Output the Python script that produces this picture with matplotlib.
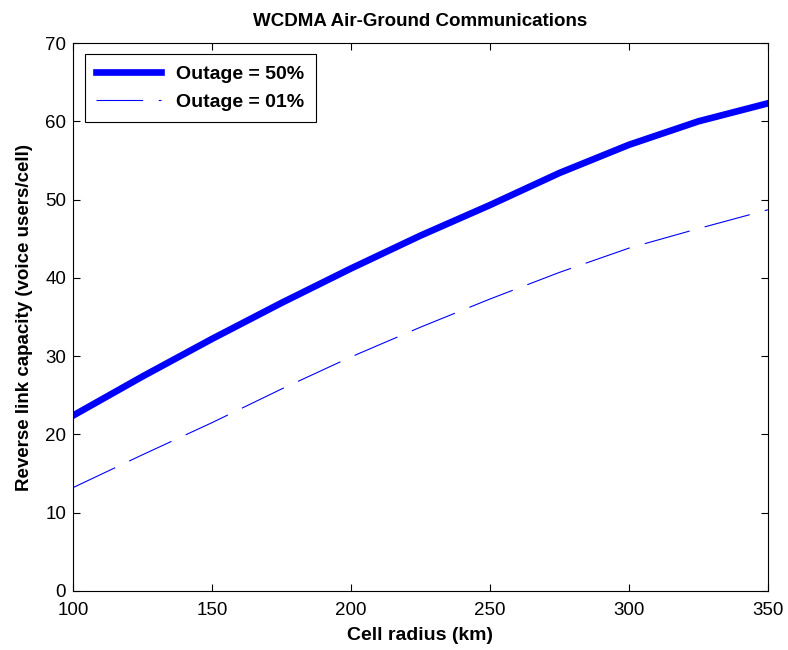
import matplotlib
matplotlib.use("Agg")
import matplotlib.pyplot as plt

# values
radius_km = [100, 125, 150, 175, 200, 225, 250, 275, 300, 325, 350]
outage_50 = [22.4, 27.4, 32.2, 36.8, 41.2, 45.4, 49.3, 53.4, 57.0, 60.0, 62.3]
outage_01 = [13.2, 17.4, 21.5, 25.8, 29.9, 33.7, 37.3, 40.7, 43.8, 46.3, 48.7]

plt.rcParams['font.family'] = ['Liberation Sans', 'DejaVu Sans']

fig = plt.figure(figsize=(7.88, 6.5), dpi=100)
ax = fig.add_axes([0.0926, 0.0908, 0.882, 0.843])

ax.plot(radius_km, outage_50, color='#0000ff', lw=4.8, label='Outage = 50%')
ax.plot(radius_km, outage_01, color='#0000ff', lw=0.8, linestyle=(0, (42, 14)),
        label='Outage = 01%')

ax.set_xlim(100, 350)
ax.set_ylim(0, 70)
ax.set_xticks(range(100, 351, 50))
ax.set_yticks(range(0, 71, 10))
ax.tick_params(direction='in', top=True, right=True, labelsize=13.5, length=5, width=0.8)
ax.tick_params(axis='x', pad=8)
ax.tick_params(axis='y', pad=5)
for s in ax.spines.values():
    s.set_linewidth(0.8)

ax.set_title('WCDMA Air-Ground Communications', fontsize=13.5, fontweight='bold', pad=12)
ax.set_xlabel('Cell radius (km)', fontsize=14, fontweight='bold', labelpad=6)
ax.set_ylabel('Reverse link capacity (voice users/cell)', fontsize=13.5, fontweight='bold', labelpad=9)

leg = ax.legend(loc='upper left', prop={'weight': 'bold', 'size': 14}, fancybox=False,
                edgecolor='black', framealpha=1, handlelength=3.3, borderpad=0.6,
                handletextpad=0.8, labelspacing=0.5, borderaxespad=0,
                bbox_to_anchor=(0.017, 0.98))
leg.get_frame().set_linewidth(0.8)

fig.savefig('out.png', dpi=100)
